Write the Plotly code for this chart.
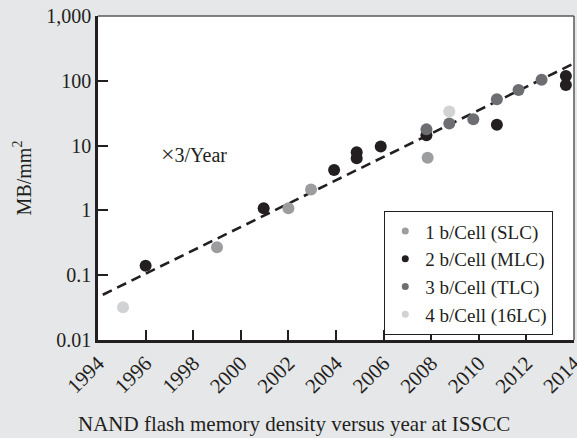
import plotly.graph_objects as go

# ISSCC NAND flash density by cell type (year, MB/mm^2)
slc_year = [1999.0, 2002.0, 2002.95, 2007.85]
slc_val = [0.27, 1.08, 2.1, 6.5]

mlc_year = [1996.0, 2000.96, 2003.92, 2004.87, 2004.87, 2005.88, 2007.8, 2010.76, 2013.66, 2013.66]
mlc_val = [0.14, 1.08, 4.2, 7.9, 6.4, 9.7, 14.5, 21, 119, 86]

tlc_year = [2007.8, 2008.76, 2009.77, 2010.76, 2011.67, 2012.64]
tlc_val = [17.8, 22, 25.5, 52, 72, 104]

qlc_year = [1995.05, 2008.76]
qlc_val = [0.032, 33.7]

# trend line endpoints
trend_year = [1994.2, 2014.3]
trend_val = [0.05, 210]

x_ticks = list(range(1994, 2015, 2))
y_ticks = [0.01, 0.1, 1, 10, 100, 1000]
y_labels = ["0.01", "0.1", "1", "10", "100", "1,000"]

FONT = "Liberation Serif, serif"
INK = "#231f20"

fig = go.Figure()

fig.add_trace(go.Scatter(
    x=trend_year, y=trend_val, mode="lines",
    line=dict(color=INK, width=2.6, dash="10px,6px"),
    showlegend=False, hoverinfo="skip"))

series = [
    ("1 b/Cell (SLC)", slc_year, slc_val, "#9c9d9f"),
    ("2 b/Cell (MLC)", mlc_year, mlc_val, INK),
    ("3 b/Cell (TLC)", tlc_year, tlc_val, "#6d6e71"),
    ("4 b/Cell (16LC)", qlc_year, qlc_val, "#d1d2d4"),
]
for name, xs, ys, col in series:
    fig.add_trace(go.Scatter(
        x=xs, y=ys, mode="markers", name=name, legendgroup=name,
        showlegend=False, marker=dict(color=col, size=12, line=dict(width=0))))
    # smaller legend swatch for the same series
    fig.add_trace(go.Scatter(
        x=[None], y=[None], mode="markers", name=name, legendgroup=name,
        marker=dict(color=col, size=7, line=dict(width=0))))

fig.update_layout(
    width=577, height=438,
    margin=dict(l=98, r=3, t=16, b=98),
    paper_bgcolor="#e6e7e9", plot_bgcolor="white",
    font=dict(family=FONT, size=20, color=INK),
    legend=dict(
        x=0.601, y=0.398, xanchor="left", yanchor="top",
        bgcolor="white", bordercolor=INK, borderwidth=1.2,
        font=dict(family=FONT, size=19, color=INK),
        itemsizing="trace", tracegroupgap=0,
        itemwidth=30,
    ),
    annotations=[
        dict(x=1996.55, y=0.87, xref="x", yref="y",
             text="<span style='font-size:24px'>×</span>3/Year",
             showarrow=False, xanchor="left", yanchor="middle",
             font=dict(family=FONT, size=20, color=INK)),
        dict(x=0.412, y=-0.258, xref="paper", yref="paper",
             text="NAND flash memory density versus year at ISSCC",
             showarrow=False, xanchor="center", yanchor="middle",
             font=dict(family=FONT, size=21, color=INK)),
    ],
    shapes=[
        dict(type="line", xref="paper", yref="paper", x0=0, x1=1, y0=1, y1=1,
             line=dict(color="#58595b", width=1.5)),
        dict(type="line", xref="paper", yref="paper", x0=1, x1=1, y0=0, y1=1,
             line=dict(color="#58595b", width=1.5)),
    ],
)

fig.update_xaxes(
    range=[1993.999, 2014.001], tickvals=x_ticks, ticktext=[str(v) for v in x_ticks],
    tickangle=-45, ticks="inside", ticklen=10, tickwidth=1.5, tickcolor=INK,
    ticklabeloverflow="allow", automargin=False,
    showline=True, linecolor=INK, linewidth=2.5, showgrid=False, zeroline=False,
    tickfont=dict(family=FONT, size=21, color=INK),
)
fig.update_yaxes(
    type="log", range=[-2, 3], tickvals=y_ticks, ticktext=y_labels,
    ticks="inside", ticklen=10, tickwidth=1.5, tickcolor=INK,
    automargin=False,
    showline=True, linecolor=INK, linewidth=2.5, showgrid=False, zeroline=False,
    tickfont=dict(family=FONT, size=20, color=INK),
    title=dict(text="MB/mm<sup>2</sup>", font=dict(family=FONT, size=20, color=INK), standoff=10),
)

fig.write_html("out.html")
